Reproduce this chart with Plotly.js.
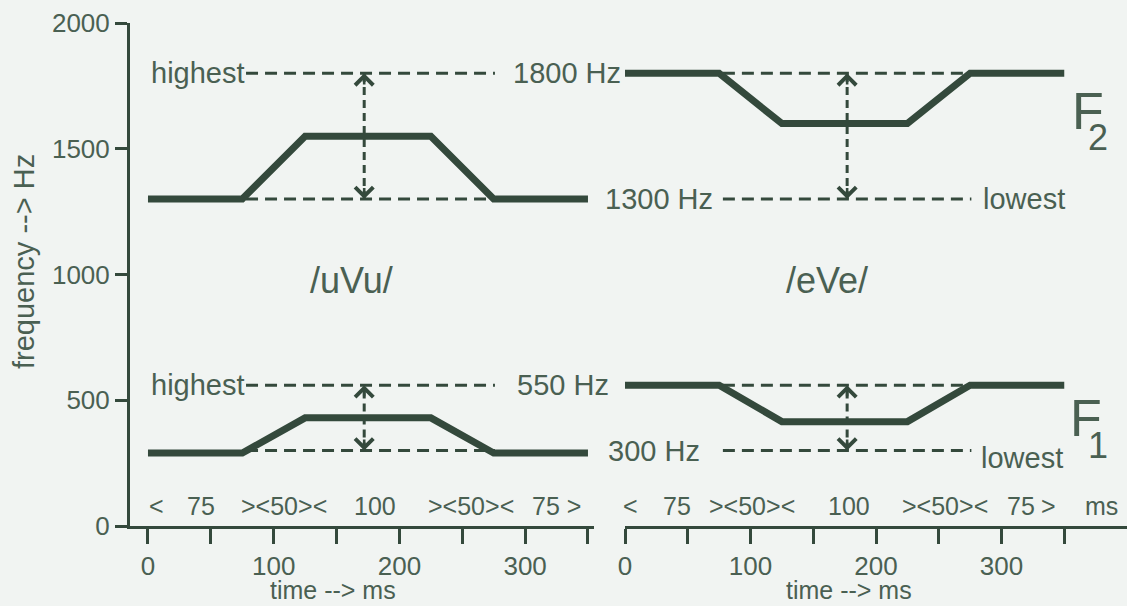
<!DOCTYPE html>
<html>
<head>
<meta charset="utf-8">
<script src="https://cdn.plot.ly/plotly-3.0.1.min.js"></script>
<style>
  html, body { margin: 0; padding: 0; background: #f1f4f2; }
  #chart { width: 1127px; height: 606px; }
</style>
</head>
<body>
<div id="chart"></div>
<script>
// ---------------- data ----------------
const timeMs = [0, 75, 125, 225, 275, 350];          // segment boundaries (ms)
const uVu_F2 = [1300, 1300, 1550, 1550, 1300, 1300]; // /uVu/ second formant (Hz)
const uVu_F1 = [290, 290, 430, 430, 290, 290];       // /uVu/ first formant (Hz)
const eVe_F2 = [1800, 1800, 1600, 1600, 1800, 1800]; // /eVe/ second formant (Hz)
const eVe_F1 = [560, 560, 415, 415, 560, 560];       // /eVe/ first formant (Hz)

const F2_lowHigh = [1300, 1800];   // lowest / highest F2 (Hz)
const F1_lowHigh = [300, 560];     // lowest / highest F1 (Hz)
const refSpanMs = [78, 276];       // time span of the dashed reference lines
const arrowMs = [172, 177];        // time of the double arrows (/uVu/, /eVe/)

const yTicks = [0, 500, 1000, 1500, 2000];
const xTicks = [0, 50, 100, 150, 200, 250, 300, 350];
const xTickText = ['0', '', '100', '', '200', '', '300', ''];

const leftSegLabels = ['<', '75', '><50><', '100', '><50><', '75 >'];
const rightSegLabels = ['<', '75', '><50><', '100', '><50><', '75', '>', 'ms'];
const syllables = ['/uVu/', '/eVe/'];

// ---------------- styles ----------------
const LINE = '#34493c';
const TEXT = '#4a6052';
const BG = '#f1f4f2';
const FONT = 'Liberation Sans, Arial, sans-serif';

// plot area in pixels (for text placement)
const L = 130, T = 23, W = 997, H = 503;
const px = xp => (xp - L) / W;
const py = yp => (T + H - yp) / H;

const traces = [];
function formant(xaxis, ys) {
  traces.push({ x: timeMs, y: ys, xaxis: xaxis, yaxis: 'y', mode: 'lines',
    line: { color: LINE, width: 7 }, hoverinfo: 'skip', showlegend: false });
}
function dashedH(xaxis, v) {
  traces.push({ x: refSpanMs, y: [v, v], xaxis: xaxis, yaxis: 'y', mode: 'lines',
    line: { color: LINE, width: 3, dash: '12px,7px' }, hoverinfo: 'skip', showlegend: false });
}
function dashedV(xaxis, t, lh) {
  traces.push({ x: [t, t], y: lh, xaxis: xaxis, yaxis: 'y', mode: 'lines',
    line: { color: LINE, width: 3, dash: '8px,5px' }, hoverinfo: 'skip', showlegend: false });
}

// reference lines first (below the formant tracks)
[['x', 0], ['x2', 1]].forEach(([ax, i]) => {
  dashedH(ax, F2_lowHigh[0]); dashedH(ax, F2_lowHigh[1]);
  dashedH(ax, F1_lowHigh[0]); dashedH(ax, F1_lowHigh[1]);
  dashedV(ax, arrowMs[i], F2_lowHigh);
  dashedV(ax, arrowMs[i], F1_lowHigh);
});
formant('x', uVu_F2); formant('x', uVu_F1);
formant('x2', eVe_F2); formant('x2', eVe_F1);

const ann = [];
function arrowHead(xref, t, tip, tail) {
  ann.push({ xref: xref, yref: 'y', axref: xref, ayref: 'y', x: t, y: tip, ax: t, ay: tail,
    text: '', showarrow: true, arrowhead: 4, arrowsize: 1.35, arrowwidth: 2.6,
    arrowcolor: LINE, standoff: 0 });
}
[['x', 0], ['x2', 1]].forEach(([ax, i]) => {
  const d = 50;
  arrowHead(ax, arrowMs[i], F2_lowHigh[1], F2_lowHigh[1] - d);
  arrowHead(ax, arrowMs[i], F2_lowHigh[0], F2_lowHigh[0] + d);
  arrowHead(ax, arrowMs[i], F1_lowHigh[1], F1_lowHigh[1] - d);
  arrowHead(ax, arrowMs[i], F1_lowHigh[0], F1_lowHigh[0] + d);
});

function label(text, xp, yv, xanchor, size, yref) {
  ann.push({ xref: 'paper', yref: yref || 'y', x: px(xp), y: yv, text: text,
    xanchor: xanchor, yanchor: 'middle', showarrow: false,
    font: { family: FONT, size: size, color: TEXT } });
}
// level labels
label('highest', 247, F2_lowHigh[1], 'right', 29);
label('1800 Hz', 511, F2_lowHigh[1], 'left', 29);
label('1300 Hz', 603, F2_lowHigh[0], 'left', 29);
label('lowest', 981, F2_lowHigh[0], 'left', 29);
label('highest', 247, F1_lowHigh[1], 'right', 29);
label('550 Hz', 515, F1_lowHigh[1], 'left', 29);
label('300 Hz', 606, F1_lowHigh[0], 'left', 29);
label('lowest', 979, F1_lowHigh[0] - 30, 'left', 29);
// syllables
label(syllables[0], 351, 975, 'center', 36);
label(syllables[1], 827, 975, 'center', 36);
// formant names
label('F', 1070, 1650, 'left', 52);
label('2', 1086, 1545, 'left', 36);
label('F', 1068, 430, 'left', 52);
label('1', 1086, 322, 'left', 36);
// segment duration rows
const leftSegX = [156, 201, 284, 375, 471, 556];
leftSegLabels.forEach((s, i) => label(s, leftSegX[i], 78, 'center', 25));
const rightSegX = [630, 677, 752, 849, 945, 1021, 1048, 1101];
rightSegLabels.forEach((s, i) => label(s, rightSegX[i], 78, 'center', 25));
// axis titles
const xTitleFont = { family: FONT, size: 25, color: TEXT };
ann.push({ xref: 'paper', yref: 'paper', x: px(333), y: py(590), text: 'time --> ms',
  showarrow: false, xanchor: 'center', yanchor: 'middle', borderpad: 0, font: xTitleFont });
ann.push({ xref: 'paper', yref: 'paper', x: px(849), y: py(590), text: 'time --> ms',
  showarrow: false, xanchor: 'center', yanchor: 'middle', borderpad: 0, font: xTitleFont });
ann.push({ xref: 'paper', yref: 'paper', x: px(24), y: py(262), text: 'frequency --> Hz',
  textangle: -90, showarrow: false, xanchor: 'center', yanchor: 'middle',
  font: { family: FONT, size: 29, color: TEXT } });

const xCommon = {
  anchor: 'y', showgrid: false, zeroline: false, showline: true, linecolor: LINE, linewidth: 3,
  ticks: 'outside', ticklen: 15, tickwidth: 3, tickcolor: LINE,
  tickmode: 'array', tickvals: xTicks, ticktext: xTickText,
  tickfont: { family: FONT, size: 26, color: TEXT }, fixedrange: true
};

const layout = {
  width: 1127, height: 606,
  margin: { l: L, r: 1127 - L - W, t: T, b: 606 - T - H, pad: 0 },
  paper_bgcolor: BG, plot_bgcolor: BG,
  showlegend: false,
  font: { family: FONT, color: TEXT },
  xaxis: Object.assign({}, xCommon, { domain: [0, px(594)], range: [-14.3, 354.8] }),
  xaxis2: Object.assign({}, xCommon, { domain: [px(625), 1], range: [0, 400] }),
  yaxis: {
    anchor: 'x', range: [0, 2000], showgrid: false, zeroline: false, showline: true,
    linecolor: LINE, linewidth: 3, ticks: 'outside', ticklen: 12, tickwidth: 3, tickcolor: LINE,
    tickmode: 'array', tickvals: yTicks,
    tickfont: { family: FONT, size: 26, color: TEXT }, fixedrange: true
  },
  annotations: ann
};

Plotly.newPlot('chart', traces, layout, { displayModeBar: false, staticPlot: true });
</script>
</body>
</html>
